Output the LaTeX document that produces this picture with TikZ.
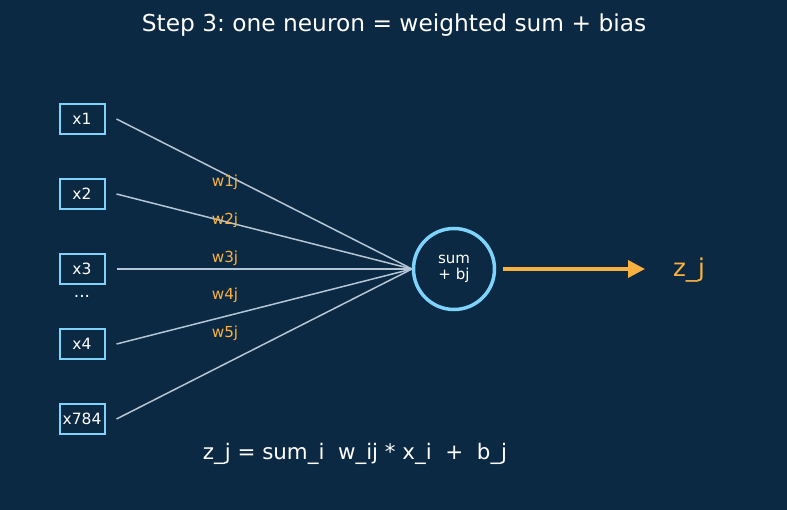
\documentclass[tikz,border=0pt]{standalone}
\usepackage{fontspec}
\setmainfont{DejaVu Sans}
\usetikzlibrary{arrows.meta}
\definecolor{bg}{HTML}{0B2942}
\definecolor{boxc}{HTML}{7DD3FC}
\definecolor{linec}{HTML}{B4C6D6}
\definecolor{orng}{HTML}{FBB140}
\frenchspacing
\begin{document}
\begin{tikzpicture}[x=1pt,y=-1pt,
  inbox/.style={draw=boxc,line width=2pt,minimum width=45pt,minimum height=30pt,inner sep=0pt,text=white,font=\fontsize{15.5}{16}\selectfont},
  wlabel/.style={text=orng,font=\fontsize{15.2}{16}\selectfont},
  conn/.style={draw=linec,line width=1.5pt},
  neuron/.style={circle,draw=boxc,line width=3.5pt,minimum size=81pt,inner sep=0pt,text=white,align=center,font=\fontsize{15}{15.5}\selectfont}]
\fill[bg] (0,0) rectangle (787,510);
\useasboundingbox (0,0) rectangle (787,510);
\node[text=white,font=\fontsize{23.3}{26}\selectfont] (title) at (394,25.5) {Step 3: one neuron = weighted sum + bias};
\node[inbox] (x1) at (82,119) {x1};
\node[inbox] (x2) at (82,194) {x2};
\node[inbox] (x3) at (82,269) {x3};
\node[inbox] (x4) at (82,344) {x4};
\node[inbox] (x784) at (82,419) {x784};
\node[text=white,font=\fontsize{17}{17}\selectfont] (dots) at (82,296) {...};
\node[neuron] (n) at (454,269) {sum\\+ bj};
\coordinate (hub) at (412,269);
\foreach \s in {x1,x2,x3,x4,x784}{
  \draw[conn] ([xshift=11pt]\s.east) -- (hub);
}
\node[wlabel] (w1) at (225,182) {w1j};
\node[wlabel] (w2) at (225,220) {w2j};
\node[wlabel] (w3) at (225,258) {w3j};
\node[wlabel] (w4) at (225,295) {w4j};
\node[wlabel] (w5) at (225,333) {w5j};
\node[text=orng,font=\fontsize{24.5}{26}\selectfont] (z) at (689,270) {z\_j};
\draw[orng,line width=3.5pt,-{Triangle[length=17pt,width=17pt]}] (n.east)++(7,0) -- (645,269);
\node[text=white,font=\fontsize{21.4}{24}\selectfont] (f) at (355,453.5) {z\_j = sum\_i\ \ w\_ij * x\_i\ \ +\ \ b\_j};
\end{tikzpicture}
\end{document}
